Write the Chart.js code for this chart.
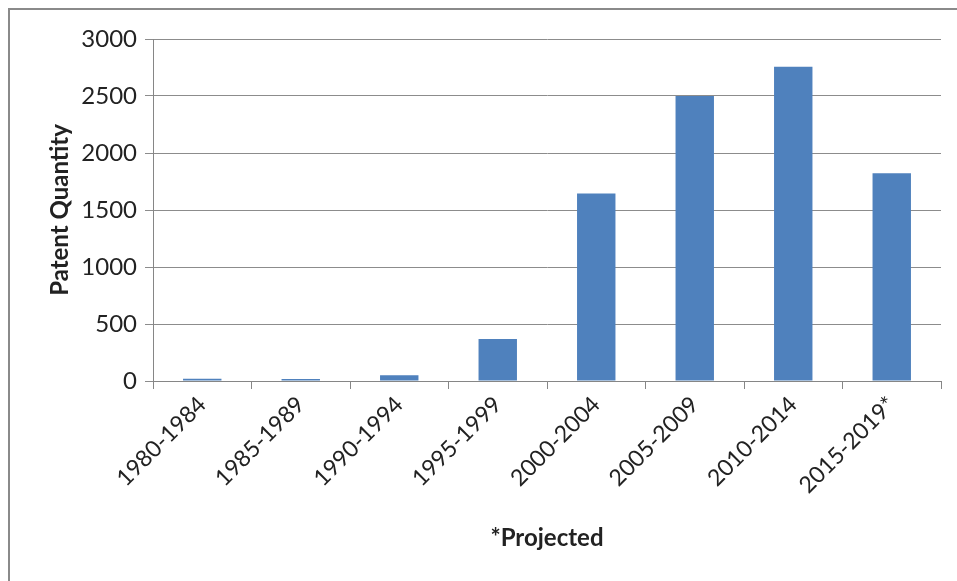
<!DOCTYPE html>
<html>
<head>
<meta charset="utf-8">
<script src="https://cdn.jsdelivr.net/npm/chart.js@4/dist/chart.umd.min.js"></script>
<style>
  html, body { margin: 0; padding: 0; background: #fff; }
  #wrap { position: absolute; left: 0; top: 0; width: 957px; height: 581px; }
  #frame { position: absolute; left: 8px; top: 8px; width: 960px; height: 580px; border: 2px solid #8a8a8a; box-sizing: border-box; }
  #chart { position: absolute; left: 0; top: 0; }
</style>
</head>
<body>
<div id="wrap">
  <div id="frame"></div>
  <canvas id="chart" width="957" height="581"></canvas>
</div>
<script>
// Дані
const periods = ["1980-1984", "1985-1989", "1990-1994", "1995-1999", "2000-2004", "2005-2009", "2010-2014", "2015-2019*"];
const patents = [20, 18, 50, 368, 1645, 2500, 2757, 1822];
const yTicks = [0, 500, 1000, 1500, 2000, 2500, 3000];

const font = "Lato, 'Open Sans', sans-serif";
const ctx = document.getElementById("chart").getContext("2d");

new Chart(ctx, {
  type: "bar",
  data: {
    labels: periods,
    datasets: [{
      data: patents,
      backgroundColor: "#4f81bd",
      borderWidth: 0,
      barPercentage: 0.39,
      categoryPercentage: 1
    }]
  },
  options: {
    responsive: false,
    animation: false,
    layout: { padding: { left: 0, right: 16, top: 39, bottom: 0 } },
    plugins: { legend: { display: false }, tooltip: { enabled: false } },
    scales: {
      x: {
        offset: true,
        afterFit: axis => { axis.height = 200; },
        grid: { offset: true, drawOnChartArea: false, color: "#868686", tickLength: 8 },
        border: { color: "#868686", width: 1 },
        ticks: { color: "#222", font: { family: font, size: 23 }, minRotation: 45, maxRotation: 45, padding: 2 },
        title: { display: true, text: "*Projected", color: "#222", font: { family: font, size: 24, weight: "bold" }, padding: { top: 0, bottom: 28 } }
      },
      y: {
        min: 0,
        max: 3000,
        afterFit: axis => { axis.width = 153; },
        afterBuildTicks: axis => { axis.ticks = yTicks.map(v => ({ value: v })); },
        grid: { color: "#8c8c8c", tickLength: 8 },
        border: { color: "#868686", width: 1 },
        ticks: { color: "#222", font: { family: font, size: 24 }, padding: 8, callback: v => String(v) },
        title: { display: true, text: "Patent Quantity", color: "#222", font: { family: font, size: 24, weight: "bold" }, padding: { top: 46, bottom: 0 } }
      }
    }
  }
});
</script>
</body>
</html>
